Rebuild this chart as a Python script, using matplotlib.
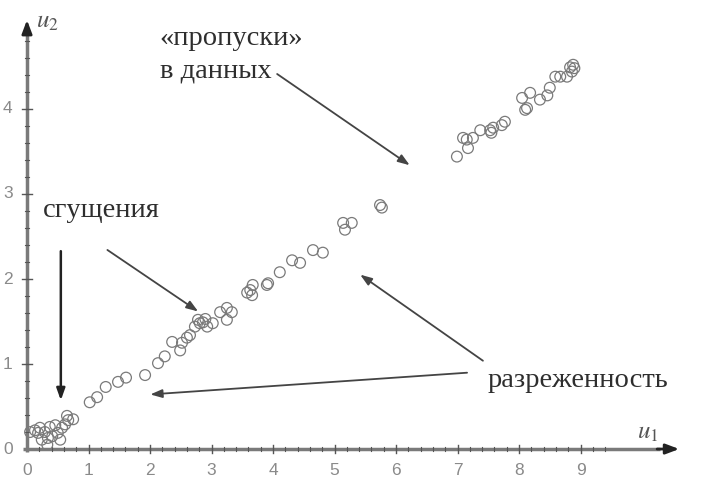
import numpy as np
import matplotlib.pyplot as plt

# points (u1, u2)
u1 = [0.05, 0.13, 0.18, 0.21, 0.24, 0.29, 0.33, 0.34, 0.37, 0.41, 0.46, 0.50, 0.54,
      0.57, 0.62, 0.67, 0.65, 0.75, 1.02, 1.14, 1.28, 1.48, 1.61, 1.92, 2.13,
      2.24, 2.36, 2.49, 2.52, 2.60, 2.65, 2.73, 2.81, 2.86, 2.93, 3.02, 2.78, 2.90,
      3.14, 3.25, 3.33, 3.25, 3.58, 3.66, 3.63, 3.67, 3.90, 3.92, 4.11, 4.31,
      4.44, 4.65, 4.81, 5.14, 5.28, 5.17, 5.74, 5.77,
      6.99, 7.17, 7.09, 7.15, 7.25, 7.37, 7.53, 7.58, 7.77, 7.72, 7.55,
      8.10, 8.05, 8.18, 8.13, 8.34, 8.46, 8.50, 8.59, 8.67, 8.78, 8.83, 8.88, 8.86, 8.90]
u2 = [0.20, 0.22, 0.19, 0.25, 0.11, 0.20, 0.05, 0.13, 0.26, 0.15, 0.28, 0.19, 0.11,
      0.25, 0.29, 0.34, 0.39, 0.35, 0.55, 0.61, 0.73, 0.79, 0.84, 0.87, 1.01,
      1.09, 1.26, 1.16, 1.25, 1.31, 1.34, 1.44, 1.48, 1.49, 1.44, 1.48, 1.52, 1.53,
      1.61, 1.66, 1.61, 1.52, 1.84, 1.81, 1.87, 1.93, 1.93, 1.95, 2.08, 2.22,
      2.19, 2.34, 2.31, 2.66, 2.66, 2.58, 2.87, 2.84,
      3.44, 3.54, 3.66, 3.64, 3.66, 3.75, 3.75, 3.78, 3.85, 3.81, 3.72,
      3.99, 4.13, 4.19, 4.01, 4.11, 4.16, 4.25, 4.38, 4.38, 4.38, 4.49, 4.52, 4.44, 4.48]

x_ticks = list(range(10))
y_ticks = list(range(5))

axis_col = "#7a7a7a"
text_col = "#2e2e2e"
serif = ["Liberation Serif", "DejaVu Serif"]
plt.rcParams["mathtext.fontset"] = "stix"

fig = plt.figure(figsize=(7.06, 4.94), dpi=100)
ax = fig.add_axes([0, 0, 1, 1])
ax.set_xlim(-0.439, 11.04)
ax.set_ylim(-0.529, 5.282)
ax.axis("off")

# hand-drawn axes with arrows
ax.plot([-0.06, 10.3], [0, 0], color=axis_col, lw=2.5, solid_capstyle="butt", zorder=1)
ax.plot([0, 0], [-0.04, 4.9], color=axis_col, lw=2.5, solid_capstyle="butt", zorder=1)
ax.annotate("", xy=(10.65, 0), xytext=(10.2, 0),
            arrowprops=dict(arrowstyle="-|>,head_length=0.8,head_width=0.3", color="#222222", lw=2))
ax.annotate("", xy=(0, 5.08), xytext=(0, 4.85),
            arrowprops=dict(arrowstyle="-|>,head_length=0.8,head_width=0.3", color="#222222", lw=2))

# ticks
dx = 0.065
dy = 0.05
for v in np.arange(0.2, 9.5, 0.2):
    major = abs(v - round(v)) < 1e-6
    h = dy * (1.0 if major else 0.5)
    ax.plot([v, v], [-h, h], color="#555555", lw=1.0 if major else 0.8, zorder=2)
for v in np.arange(0.2, 4.9, 0.2):
    major = abs(v - round(v)) < 1e-6
    w = dx * (1.2 if major else 0.6)
    ax.plot([-w, w], [v, v], color="#555555", lw=1.0 if major else 0.8, zorder=2)

for t in x_ticks:
    ax.text(t, -0.25, str(t), ha="center", va="center", fontsize=12.5,
            color="#8a8a8a", family="Liberation Sans")
for t in y_ticks:
    ax.text(-0.31, t, str(t), ha="center", va="center", fontsize=12.5,
            color="#8a8a8a", family="Liberation Sans")

ax.text(0.33, 5.04, "$u_2$", fontsize=18, color="#555555", ha="center", va="center")
ax.text(10.1, 0.2, "$u_1$", fontsize=18, color="#555555", ha="center", va="center")

# data
ax.scatter(u1, u2, s=60, facecolors="none", edgecolors="#7a7a7a", linewidths=0.9, zorder=3)

# annotations
ax.text(2.16, 4.75, "«пропуски»", fontsize=20.5, color=text_col, family=serif,
        ha="left", va="baseline")
ax.text(2.16, 4.37, "в данных", fontsize=20.5, color=text_col, family=serif,
        ha="left", va="baseline")
ax.text(0.26, 2.73, "сгущения", fontsize=20.5, color=text_col, family=serif,
        ha="left", va="baseline")
ax.text(7.48, 0.73, "разреженность", fontsize=20.5, color=text_col, family=serif,
        ha="left", va="baseline")

arrow = dict(arrowstyle="-|>,head_length=0.7,head_width=0.25", color="#444444", lw=1.3)
ax.annotate("", xy=(6.26, 3.32), xytext=(4.03, 4.43), arrowprops=arrow)
ax.annotate("", xy=(0.55, 0.54), xytext=(0.55, 2.36),
            arrowprops=dict(arrowstyle="-|>,head_length=0.7,head_width=0.25", color="#222222", lw=1.8))
ax.annotate("", xy=(2.82, 1.6), xytext=(1.27, 2.36), arrowprops=arrow)
ax.annotate("", xy=(1.96, 0.64), xytext=(7.2, 0.9), arrowprops=arrow)
ax.annotate("", xy=(5.38, 2.07), xytext=(7.45, 1.02), arrowprops=arrow)

fig.savefig("out.png", dpi=100)
